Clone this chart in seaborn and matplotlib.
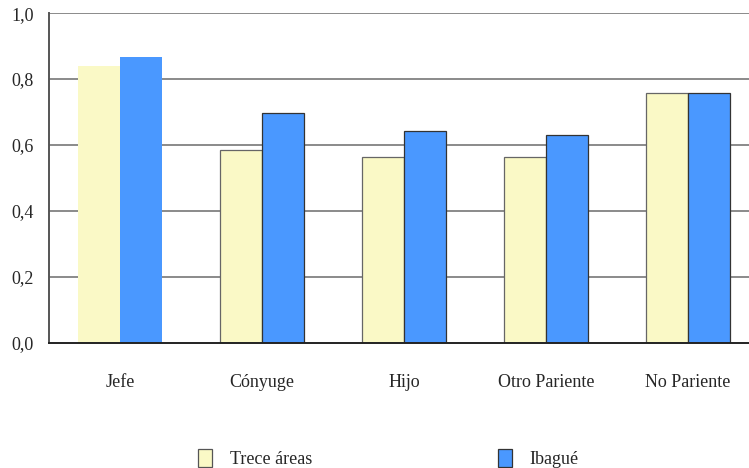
import matplotlib
matplotlib.use("Agg")
import matplotlib.pyplot as plt
from matplotlib.patches import Patch
from matplotlib.ticker import FuncFormatter
import pandas as pd
import seaborn as sns


categories = ["Jefe", "Cónyuge", "Hijo", "Otro Pariente", "No Pariente"]
series_names = ["Trece áreas", "Ibagué"]
trece_areas = [0.840, 0.584, 0.564, 0.564, 0.758]
ibague = [0.867, 0.698, 0.643, 0.630, 0.758]
y_ticks = [0.0, 0.2, 0.4, 0.6, 0.8, 1.0]

YELLOW = "#FAF9C6"
BLUE = "#4A98FF"
GRID = "#8a8a8a"
DARK = "#333333"


def main() -> None:
    df = pd.DataFrame({
        "categoria": categories * 2,
        "serie": [series_names[0]] * len(categories) + [series_names[1]] * len(categories),
        "valor": trece_areas + ibague,
    })

    sns.set_style("white")
    plt.rcParams["font.family"] = "serif"
    plt.rcParams["font.serif"] = ["Liberation Serif", "DejaVu Serif"]

    fig = plt.figure(figsize=(7.49, 4.68), dpi=100)
    ax = fig.add_axes([0.0654, 0.267, 0.9346, 0.705])

    for y in y_ticks[1:]:
        ax.axhline(y, color=GRID, linewidth=1.4, zorder=0)

    sns.barplot(data=df, x="categoria", y="valor", hue="serie", order=categories,
                hue_order=series_names, palette=[YELLOW, BLUE], width=0.59,
                saturation=1, legend=False, ax=ax, zorder=2)

    # first group has no outline in the original
    for i, bar in enumerate(ax.patches):
        if i % len(categories) == 0:
            bar.set_edgecolor("none")
        else:
            bar.set_edgecolor(DARK if i >= len(categories) else "#666666")
            bar.set_linewidth(0.9)

    ax.set_ylim(0, 1.0)
    ax.set_xlim(-0.5, 4.43)
    ax.set_yticks(y_ticks)
    ax.yaxis.set_major_formatter(FuncFormatter(lambda v, _: f"{v:.1f}".replace(".", ",")))
    ax.tick_params(axis="y", length=5, width=1.2, color="#444444", labelsize=13, pad=6)

    ax.set_xticks([-0.5, 0.5, 1.5, 2.5, 3.5])
    ax.set_xticklabels([])
    ax.set_xticks(range(len(categories)), minor=True)
    ax.set_xticklabels(categories, minor=True)
    ax.tick_params(axis="x", which="major", length=9, width=1.2, color="#444444", direction="out")
    ax.tick_params(axis="x", which="minor", length=0, labelsize=13, pad=22)
    ax.set_xlabel("")
    ax.set_ylabel("")

    for side in ["top", "right"]:
        ax.spines[side].set_visible(False)
    ax.spines["left"].set_color("#555555")
    ax.spines["left"].set_linewidth(1.4)
    ax.spines["bottom"].set_color("#222222")
    ax.spines["bottom"].set_linewidth(1.4)
    ax.spines["bottom"].set_zorder(3)

    handles = [Patch(facecolor=YELLOW, edgecolor="#555555", linewidth=0.9),
               Patch(facecolor=BLUE, edgecolor="#333333", linewidth=0.9)]
    fig.legend(handles, series_names, loc="center left", bbox_to_anchor=(0.243, 0.02),
               ncol=2, frameon=False, fontsize=13, handlelength=0.75, handleheight=1.2,
               handletextpad=1.0, columnspacing=10.3)

    fig.savefig("out.png", dpi=100)
    plt.close(fig)


if __name__ == "__main__":
    main()
